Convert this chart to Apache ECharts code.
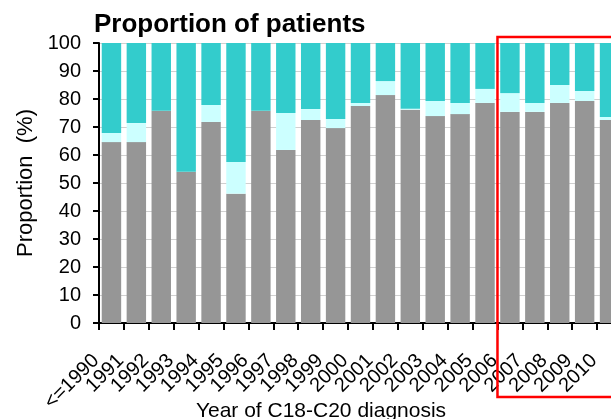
<!DOCTYPE html>
<html>
<head>
<meta charset="utf-8">
<script src="https://cdn.jsdelivr.net/npm/echarts@6/dist/echarts.min.js"></script>
<style>
html,body{margin:0;padding:0;background:#fff;}
#c{width:611px;height:419px;}
</style>
</head>
<body>
<div id="c"></div>
<script>
var categories = ['<=1990','1991','1992','1993','1994','1995','1996','1997','1998','1999','2000','2001','2002','2003','2004','2005','2006','2007','2008','2009','2010'];
var greyValues  = [64.6,64.6,75.8,54.0,71.8,46.2,75.8,61.8,72.5,69.6,77.5,81.4,76.2,73.9,74.6,78.6,75.4,75.4,78.6,79.3,72.5];
var lightValues = [3.3,6.8,0,0,6.1,11.3,0,13.2,3.9,3.3,1.1,5.0,0.3,5.4,4.0,5.0,6.7,3.2,6.4,3.6,1.1];
var tealValues  = [32.1,28.6,24.2,46.0,22.1,42.5,24.2,25.0,23.6,27.1,21.4,13.6,23.5,20.7,21.4,16.4,17.9,21.4,15.0,17.1,26.4];
var yTicks = [0,10,20,30,40,50,60,70,80,90,100];
var highlightFrom = '2006';

var FONT = '"Liberation Sans", Arial, sans-serif';
var chart = echarts.init(document.getElementById('c'), null, {renderer:'canvas'});

var option = {
  animation: false,
  backgroundColor: '#ffffff',
  title: [
    {text: 'Proportion of patients', left: 94, top: 12, padding: 0,
     textStyle: {fontFamily: FONT, fontWeight: 'bold', fontSize: 26, color: '#000'}},
    {text: 'Year of C18-C20 diagnosis', left: 321, top: 401, padding: 0, textAlign: 'center',
     textStyle: {fontFamily: FONT, fontWeight: 'normal', fontSize: 21, color: '#000'}}
  ],
  grid: {left: 99, top: 43, width: 523, height: 280, containLabel: false, outerBoundsMode: 'none'},
  xAxis: {
    type: 'category',
    data: categories,
    axisLine: {lineStyle: {color: '#000', width: 2}},
    axisTick: {show: true, length: 7, lineStyle: {color: '#000', width: 2}},
    axisLabel: {interval: 0, rotate: 45, fontFamily: FONT, fontSize: 20, color: '#000', margin: 19,
                padding: [0, 22, 0, 0]},
    splitLine: {show: false}
  },
  yAxis: {
    type: 'value', min: yTicks[0], max: yTicks[yTicks.length-1], interval: 10,
    name: 'Proportion  (%)', nameLocation: 'middle', nameGap: 57,
    nameTextStyle: {fontFamily: FONT, fontSize: 22, color: '#000'},
    axisLine: {show: true, lineStyle: {color: '#000', width: 2}},
    axisTick: {show: true, length: 6, lineStyle: {color: '#000', width: 2}},
    axisLabel: {fontFamily: FONT, fontSize: 20, color: '#000', margin: 18},
    splitLine: {show: true, lineStyle: {color: '#d0d0d0', width: 1}}
  },
  series: [
    {name: 'grey', type: 'bar', stack: 'p', data: greyValues, barCategoryGap: '22%',
     itemStyle: {color: '#969696'}},
    {name: 'light', type: 'bar', stack: 'p', data: lightValues,
     itemStyle: {color: '#ccffff'}},
    {name: 'teal', type: 'bar', stack: 'p', data: tealValues,
     itemStyle: {color: '#33cccc'}}
  ]
};
chart.setOption(option);

var idx = categories.indexOf(highlightFrom);
var p0 = chart.convertToPixel({xAxisIndex: 0}, categories[0]);
var p1 = chart.convertToPixel({xAxisIndex: 0}, categories[1]);
var band = p1 - p0;
var xStart = chart.convertToPixel({xAxisIndex: 0}, categories[idx]) - band / 2;
chart.setOption({
  graphic: [{
    type: 'rect', z: 100,
    shape: {x: xStart, y: 37, width: 300, height: 360},
    style: {fill: 'none', stroke: '#ff0000', lineWidth: 2.5}
  }]
});
</script>
</body>
</html>
